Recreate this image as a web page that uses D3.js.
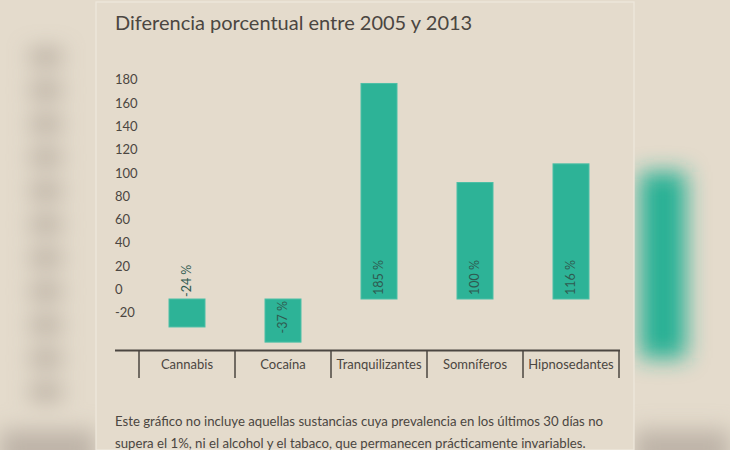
<!DOCTYPE html>
<html>
<head>
<meta charset="utf-8">
<script src="https://cdn.jsdelivr.net/npm/d3@7/dist/d3.min.js"></script>
<style>
  html, body { margin: 0; padding: 0; background: #e4dbcc; }
  svg { display: block; }
  text { font-family: "Lato", "Open Sans", sans-serif; }
</style>
</head>
<body>
<svg id="chart" width="730" height="450"></svg>
<script>
// ---- data ----
const title = "Diferencia porcentual entre 2005 y 2013";
const categories = ["Cannabis", "Cocaína", "Tranquilizantes", "Somníferos", "Hipnosedantes"];
const values = [-24, -37, 185, 100, 116];
const valueLabels = ["-24 %", "-37 %", "185 %", "100 %", "116 %"];
const yTicks = [180, 160, 140, 120, 100, 80, 60, 40, 20, 0, -20];
const footnote = [
  "Este gráfico no incluye aquellas sustancias cuya prevalencia en los últimos 30 días no",
  "supera el 1%, ni el alcohol y el tabaco, que permanecen prácticamente invariables."
];

const svg = d3.select("#chart");
const W = 730, H = 450;
const textColor = "#4b4641";
const barColor = "#2db397";

// ---- blurred backdrop (decorative) ----
const defs = svg.append("defs");
defs.append("filter").attr("id", "blur").attr("filterUnits", "userSpaceOnUse")
  .attr("x", -60).attr("y", -60).attr("width", W + 120).attr("height", H + 120)
  .append("feGaussianBlur").attr("stdDeviation", 11);
svg.append("rect").attr("width", W).attr("height", H).attr("fill", "#e4dbcc");
const back = svg.append("g").attr("filter", "url(#blur)");
d3.range(11).forEach(i => {
  back.append("rect").attr("x", 30).attr("y", 50 + i * 33.5).attr("width", 32).attr("height", 14)
    .attr("fill", "#a89e92").attr("opacity", 0.9);
});
back.append("rect").attr("x", 640).attr("y", 172).attr("width", 46).attr("height", 186).attr("fill", "#27b094");
back.append("rect").attr("x", 0).attr("y", 430).attr("width", 96).attr("height", 40).attr("fill", "#bdb3a7");
back.append("rect").attr("x", 634).attr("y", 430).attr("width", 96).attr("height", 40).attr("fill", "#bdb3a7");

// ---- panel ----
svg.append("rect").attr("x", 96).attr("y", 2).attr("width", 538).attr("height", 448).attr("fill", "#e4dbcc")
  .attr("stroke", "#efe8dd").attr("stroke-width", 1.2);

// ---- title ----
svg.append("text").attr("x", 115).attr("y", 30).attr("font-size", 20).attr("fill", textColor).text(title);

// ---- scales ----
const y = d3.scaleLinear().domain([-40, 200]).range([345.6, 66]);
const x = d3.scaleBand().domain(categories).range([139, 619]).paddingInner(0.625).paddingOuter(0.3125);

// ---- y labels ----
svg.append("g").selectAll("text").data(yTicks).join("text")
  .attr("x", 115).attr("y", d => y(d) - 5)
  .attr("font-size", 13).attr("fill", textColor).text(d => d);

// ---- bars ----
const data = categories.map((c, i) => ({ c, v: values[i], lab: valueLabels[i] }));
svg.append("g").selectAll("rect").data(data).join("rect")
  .attr("x", d => x(d.c)).attr("width", x.bandwidth())
  .attr("y", d => y(Math.max(0, d.v)))
  .attr("height", d => Math.abs(y(d.v) - y(0)))
  .attr("fill", barColor).attr("stroke", "#4cbfa6").attr("stroke-width", 1);

// ---- value labels ----
const lab = svg.append("g").selectAll("text").data(data).join("text")
  .attr("font-size", 12.5).attr("fill", "#2f5a50")
  .text(d => d.lab);
lab.each(function(d) {
  const t = d3.select(this);
  const len = this.getComputedTextLength();
  const cx = x(d.c) + x.bandwidth() / 2 + 4;
  let yy, anchor;
  if (d.v >= 0) { yy = y(0) - 4; anchor = "start"; }
  else if (Math.abs(y(d.v) - y(0)) > len + 6) { yy = y(0) + 2; anchor = "end"; }
  else { yy = y(0) - 2; anchor = "start"; }
  t.attr("text-anchor", anchor).attr("transform", `translate(${cx},${yy}) rotate(-90)`);
});

// ---- category axis ----
const axisY = 350.5;
svg.append("line").attr("x1", 115).attr("x2", 620).attr("y1", axisY).attr("y2", axisY)
  .attr("stroke", "#4b4641").attr("stroke-width", 2);
const bounds = categories.map(c => x(c) - x.step() * x.paddingOuter()).concat([x.range()[1]]);
svg.append("g").selectAll("line").data(bounds).join("line")
  .attr("x1", d => d).attr("x2", d => d).attr("y1", axisY).attr("y2", 378)
  .attr("stroke", "#4b4641").attr("stroke-width", 1.5);
svg.append("g").selectAll("text").data(categories).join("text")
  .attr("x", d => x(d) + x.bandwidth() / 2).attr("y", 368.5)
  .attr("text-anchor", "middle").attr("font-size", 13).attr("fill", textColor).text(d => d);

// ---- footnote ----
svg.append("g").selectAll("text").data(footnote).join("text")
  .attr("x", 115).attr("y", (d, i) => 426 + i * 22)
  .attr("font-size", 13.2).attr("fill", textColor).text(d => d);
</script>
</body>
</html>
